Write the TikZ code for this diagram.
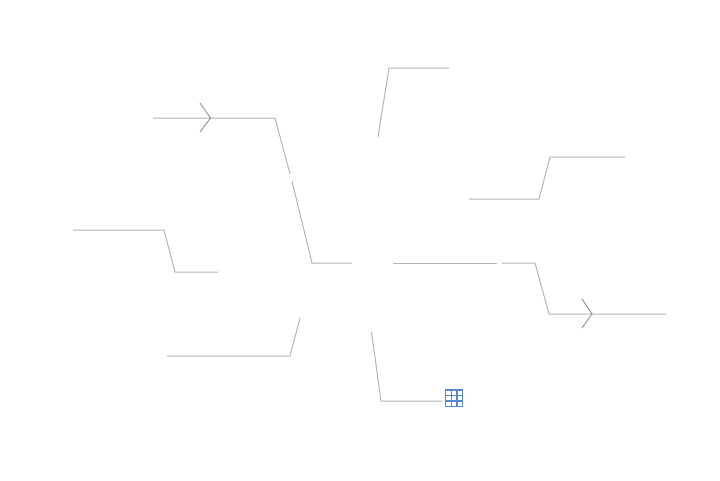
\documentclass[tikz,border=0pt]{standalone}
\usepackage{tikz}
\usetikzlibrary{positioning,calc}
\definecolor{linegray}{RGB}{180,180,180}
\definecolor{iconblue}{RGB}{84,136,208}
\begin{document}
\begin{tikzpicture}[
      x=1pt, y=-1pt,
      branch/.style = {draw=linegray, line width=1pt, line join=miter},
      chevron/.style = {draw=linegray!85!black, line width=1pt},
      icongrid/.style = {draw=iconblue, line width=1.1pt}
      ]
      \useasboundingbox (0,0) rectangle (720,480);
      % upper left
      \coordinate (ula) at (153,118);
      \coordinate (ulb) at (275,118);
      \coordinate (ulc) at (290,174);
      \coordinate (uld) at (292,181);
      \coordinate (ule) at (312,263);
      \coordinate (ulf) at (352,263);
      \path[branch] (ula) -- (ulb) -- (ulc);
      \path[branch] (uld) -- (ule) -- (ulf);
      \path[chevron] (200,103) -- (210.5,118) -- (200,132);
      % top
      \coordinate (ta) at (378,137);
      \coordinate (tb) at (389,68);
      \coordinate (tc) at (449,68);
      \path[branch] (ta) -- (tb) -- (tc);
      % upper right
      \coordinate (ura) at (469,199);
      \coordinate (urb) at (539,199);
      \coordinate (urc) at (550,157);
      \coordinate (urd) at (625,157);
      \path[branch] (ura) -- (urb) -- (urc) -- (urd);
      % right
      \coordinate (ra) at (393,263);
      \coordinate (rb) at (497,263);
      \coordinate (rc) at (502,263);
      \coordinate (rd) at (535,263);
      \coordinate (re) at (549,314);
      \coordinate (rf) at (666,314);
      \path[branch] (ra) -- (rb);
      \path[branch] (rc) -- (rd) -- (re) -- (rf);
      \path[chevron] (582,299) -- (592,314) -- (582,328);
      % left
      \coordinate (la) at (73,230);
      \coordinate (lb) at (164,230);
      \coordinate (lc) at (175,272);
      \coordinate (ld) at (218,272);
      \path[branch] (la) -- (lb) -- (lc) -- (ld);
      % lower left
      \coordinate (lla) at (167,356);
      \coordinate (llb) at (290,356);
      \coordinate (llc) at (300,318);
      \path[branch] (lla) -- (llb) -- (llc);
      % bottom
      \coordinate (ba) at (371.5,332);
      \coordinate (bb) at (381,401);
      \coordinate (bc) at (442,401);
      \path[branch] (ba) -- (bb) -- (bc);
      % table icon
      \draw[icongrid] (445.8,390) rectangle (462.6,406.5);
      \draw[icongrid] (451.4,390) -- (451.4,406.5)
        (457,390) -- (457,406.5)
        (445.8,395.5) -- (462.6,395.5)
        (445.8,401) -- (462.6,401);
    \end{tikzpicture}
\end{document}
